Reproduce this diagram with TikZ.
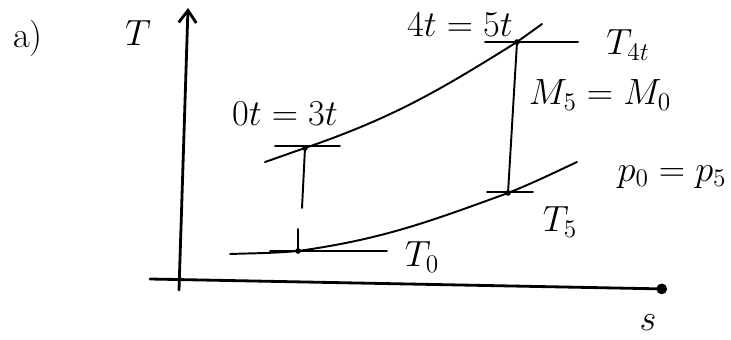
\documentclass[tikz,border=0pt]{standalone}
\usepackage{tikz}
\usetikzlibrary{arrows.meta}
\tikzset{
  axisline/.style={line width=1.6pt, line cap=round},
  curveline/.style={line width=1.1pt, line cap=round},
  lbl/.style={font=\huge, inner sep=1pt},
}

\begin{document}
\begin{tikzpicture}
  \useasboundingbox (0,0) rectangle (14.62,6.78);
  % Axes
  \coordinate (sStart) at (3.0,1.2);
  \coordinate (sEnd) at (13.34,1.0);
  \coordinate (tBot) at (3.58,0.98);
  \coordinate (tTop) at (3.76,6.62);
  \draw[axisline, -{Straight Barb[length=7pt,width=10pt]}] (tBot) -- (tTop);
  \draw[axisline, -{Circle[length=6pt]}] (sStart) -- (sEnd);
  \node[lbl] (labA) at (0.56,6.02) {a)};
  \node[lbl] (labT) at (2.76,6.12) {$T$};
  \node[lbl] (labS) at (12.96,0.32) {$s$};

  % State points
  \coordinate (st0) at (5.96,1.76);
  \coordinate (st3) at (6.1,3.82);
  \coordinate (st4) at (10.34,5.94);
  \coordinate (st5) at (10.16,2.92);

  % Isobars
  \coordinate (lowL) at (4.6,1.7);
  \coordinate (lowR) at (11.54,3.54);
  \draw[curveline] (lowL) to[out=2,in=185] (st0) to[out=8,in=200] (st5) to[out=22,in=205] (lowR);
  \coordinate (upL) at (5.3,3.54);
  \coordinate (upR) at (10.84,6.3);
  \draw[curveline] (upL) to[out=19,in=199] (st3) to[out=19,in=212] (st4) to[out=36,in=216] (upR);

  % Isotherms and ticks
  \draw[curveline] (st0) ++(-0.56,0) -- ++(2.34,0);
  \draw[curveline] (st0) -- ++(0,0.44);
  \draw[curveline] (st3) ++(-0.6,0.04) -- ++(1.3,0);
  \draw[curveline] (st4) ++(-0.64,0) -- ++(1.86,0);
  \draw[curveline] (st5) ++(-0.42,0.02) -- ++(0.92,0);

  % Processes
  \coordinate (gapEnd) at (6.04,2.62);
  \draw[curveline] (st3) -- (gapEnd);
  \draw[curveline] (st4) -- (st5);
  \foreach \p in {st0,st3,st4,st5}
    \fill (\p) circle (1.6pt);

  % Labels
  \node[lbl] (lab03) at (5.7,4.5) {$0t=3t$};
  \node[lbl] (lab45) at (9.2,6.28) {$4t=5t$};
  \node[lbl] (labT4) at (12.56,5.88) {$T_{4t}$};
  \node[lbl] (labM) at (12.0,4.88) {$M_5=M_0$};
  \node[lbl] (labP) at (13.44,3.24) {$p_0=p_5$};
  \node[lbl] (labT5) at (11.2,2.34) {$T_5$};
  \node[lbl] (labT0) at (8.44,1.64) {$T_0$};
\end{tikzpicture}
\end{document}
